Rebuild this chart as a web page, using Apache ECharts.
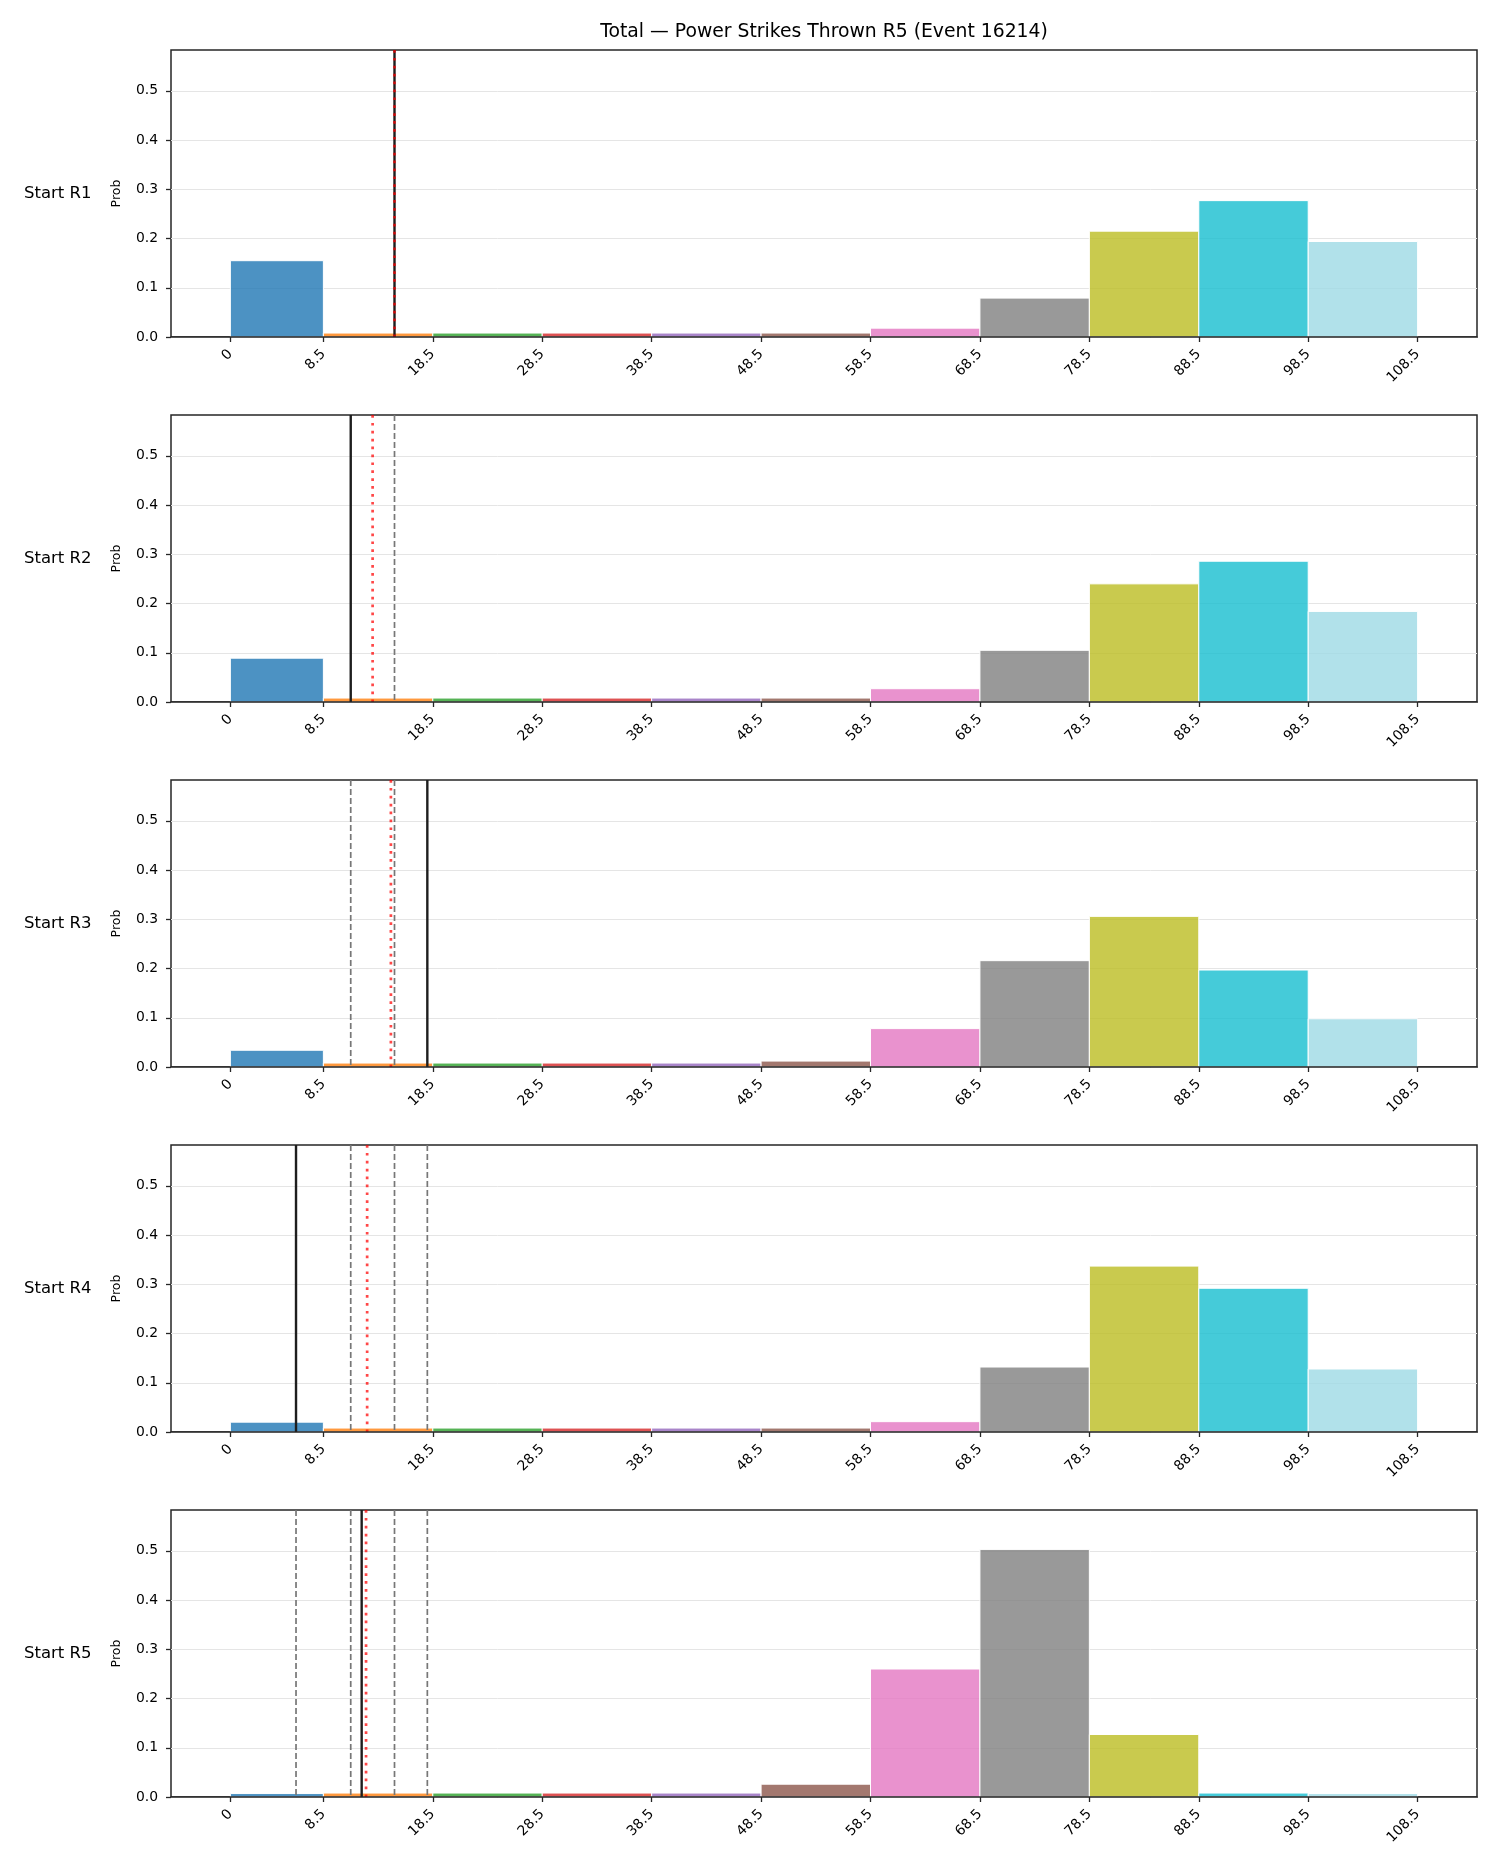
<!DOCTYPE html>
<html>
<head>
<meta charset="utf-8">
<title>Power Strikes Thrown R5</title>
<script src="https://cdn.jsdelivr.net/npm/echarts@6/dist/echarts.min.js"></script>
<style>
    html, body { margin: 0; padding: 0; background: #fff; }
    #main { width: 1500px; height: 1875px; }
</style>
</head>
<body>
<div id="main"></div>
<script>
// bins of the histogram (edges) and the tick labels on x
var binEdges = [0, 8.5, 18.5, 28.5, 38.5, 48.5, 58.5, 68.5, 78.5, 88.5, 98.5, 108.5];
var xTicks = [0, 8.5, 18.5, 28.5, 38.5, 48.5, 58.5, 68.5, 78.5, 88.5, 98.5, 108.5];
var yTicks = [0, 0.1, 0.2, 0.3, 0.4, 0.5];
var rowNames = ['Start R1', 'Start R2', 'Start R3', 'Start R4', 'Start R5'];

// probability per bin, one array per starting round
var probR1 = [0.155, 0.008, 0.008, 0.008, 0.008, 0.008, 0.018, 0.079, 0.215, 0.277, 0.194];
var probR2 = [0.089, 0.008, 0.008, 0.008, 0.008, 0.008, 0.027, 0.105, 0.240, 0.286, 0.184];
var probR3 = [0.034, 0.008, 0.008, 0.008, 0.008, 0.012, 0.078, 0.216, 0.306, 0.197, 0.098];
var probR4 = [0.020, 0.008, 0.008, 0.008, 0.008, 0.008, 0.021, 0.132, 0.337, 0.292, 0.128];
var probR5 = [0.007, 0.008, 0.008, 0.008, 0.008, 0.026, 0.260, 0.503, 0.127, 0.008, 0.007];

// vertical markers: black = this round, grey dashed = earlier rounds, red dotted = running mean
var actualLine = [15, 11, 18, 6, 12];
var priorLines = [[], [15], [11, 15], [11, 15, 18], [6, 11, 15, 18]];
var meanLine = [15, 13, 14.67, 12.5, 12.4];

var binColors = ['#1f77b4', '#ff7f0e', '#2ca02c', '#d62728', '#9467bd', '#8c564b',
    '#e377c2', '#7f7f7f', '#bcbd22', '#17becf', '#9edae5'];

var allProbs = [probR1, probR2, probR3, probR4, probR5];
var Y_MAX = 0.583;
var X_MIN = -5.425, X_MAX = 113.925;
var PAN_TOP = 50, PAN_H = 287, PAN_STEP = 365, PAN_LEFT = 171, PAN_W = 1306;
var FONT = 'DejaVu Sans';
var INK = '#262626';

var chart = echarts.init(document.getElementById('main'));

function withAlpha(hex, a) {
    var n = parseInt(hex.slice(1), 16);
    return 'rgba(' + (n >> 16) + ',' + ((n >> 8) & 255) + ',' + (n & 255) + ',' + a + ')';
}

function renderBar(params, api) {
    var p0 = api.coord([api.value(0), api.value(2)]);
    var p1 = api.coord([api.value(1), 0]);
    return {
        type: 'rect',
        shape: { x: p0[0], y: p0[1], width: p1[0] - p0[0], height: p1[1] - p0[1] },
        style: { fill: withAlpha(binColors[api.value(3)], 0.8), stroke: '#fff', lineWidth: 1 }
    };
}

function renderVLine(params, api) {
    var x = api.value(0);
    var kind = api.value(1);
    var pTop = api.coord([x, Y_MAX]);
    var pBot = api.coord([x, 0]);
    var st;
    if (kind == 0) {
        st = { stroke: '#777777', lineWidth: 1.7, lineDash: [6, 3] };
    } else if (kind == 1) {
        st = { stroke: '#1e1e1e', lineWidth: 2.4 };
    } else {
        st = { stroke: 'rgba(255,0,0,0.72)', lineWidth: 2.7, lineDash: [2.7, 5.2] };
    };
    return {
        type: 'line',
        shape: { x1: pTop[0], y1: pTop[1], x2: pBot[0], y2: pBot[1] },
        style: st
    };
}

function buildOption() {
    var grids = [], xAxes = [], yAxes = [], seriesList = [], graphics = [];

    graphics.push({
        type: 'text', x: PAN_LEFT + PAN_W / 2, y: 32,
        style: { text: 'Total \u2014 Power Strikes Thrown R5 (Event 16214)', font: '18.8px "' + FONT + '"',
            fill: '#000', textAlign: 'center', textVerticalAlign: 'middle' }
    });

    for (var intI = 0; intI < 5; intI++) {
        var panTop = PAN_TOP + intI * PAN_STEP;
        grids.push({
            left: PAN_LEFT, top: panTop, width: PAN_W, height: PAN_H,
            show: true, borderColor: INK, borderWidth: 1.5, backgroundColor: 'transparent'
        });
        xAxes.push({
            type: 'value', gridIndex: intI, min: X_MIN, max: X_MAX, z: 5,
            axisLine: { show: true, onZero: false, lineStyle: { color: INK, width: 1.5 } },
            axisTick: { show: true, length: 5, customValues: xTicks, lineStyle: { color: INK, width: 1.3 } },
            axisLabel: {
                customValues: xTicks, rotate: 45, margin: 15, color: '#000', fontSize: 13.9, fontFamily: FONT,
                formatter: function(v) { return String(v); }
            },
            splitLine: { show: false }
        });
        yAxes.push({
            type: 'value', gridIndex: intI, min: 0, max: Y_MAX, interval: 0.1,
            name: 'Prob', nameLocation: 'middle', nameGap: 48,
            nameTextStyle: { color: '#000', fontSize: 12.5, fontFamily: FONT },
            axisLine: { show: false, onZero: false },
            axisTick: { show: true, length: 5, customValues: yTicks, lineStyle: { color: INK, width: 1.3 } },
            axisLabel: {
                customValues: yTicks, margin: 13, color: '#000', fontSize: 13.9, fontFamily: FONT,
                formatter: function(v) { return v.toFixed(1); }
            },
            splitLine: { show: true, lineStyle: { color: '#e5e5e5', width: 1 } }
        });

        var barData = [];
        for (var intJ = 0; intJ < allProbs[intI].length; intJ++) {
            barData.push([binEdges[intJ], binEdges[intJ + 1], allProbs[intI][intJ], intJ]);
        };
        seriesList.push({
            type: 'custom', name: rowNames[intI], xAxisIndex: intI, yAxisIndex: intI,
            renderItem: renderBar, data: barData, encode: { x: [0, 1], y: 2 }, silent: true, z: 2
        });

        var lineData = [];
        priorLines[intI].forEach(function(v) { lineData.push([v, 0]); });
        lineData.push([actualLine[intI], 1]);
        lineData.push([meanLine[intI], 2]);
        seriesList.push({
            type: 'custom', xAxisIndex: intI, yAxisIndex: intI,
            renderItem: renderVLine, data: lineData, encode: { x: 0 }, silent: true, z: 3
        });

        graphics.push({
            type: 'text', x: 24, y: panTop + PAN_H / 2,
            style: { text: rowNames[intI], font: '16.5px "' + FONT + '"', fill: '#000',
                textAlign: 'left', textVerticalAlign: 'middle' }
        });
    };

    return {
        backgroundColor: '#fff',
        animation: false,
        grid: grids,
        xAxis: xAxes,
        yAxis: yAxes,
        series: seriesList,
        graphic: graphics
    };
}

chart.setOption(buildOption());
</script>
</body>
</html>
